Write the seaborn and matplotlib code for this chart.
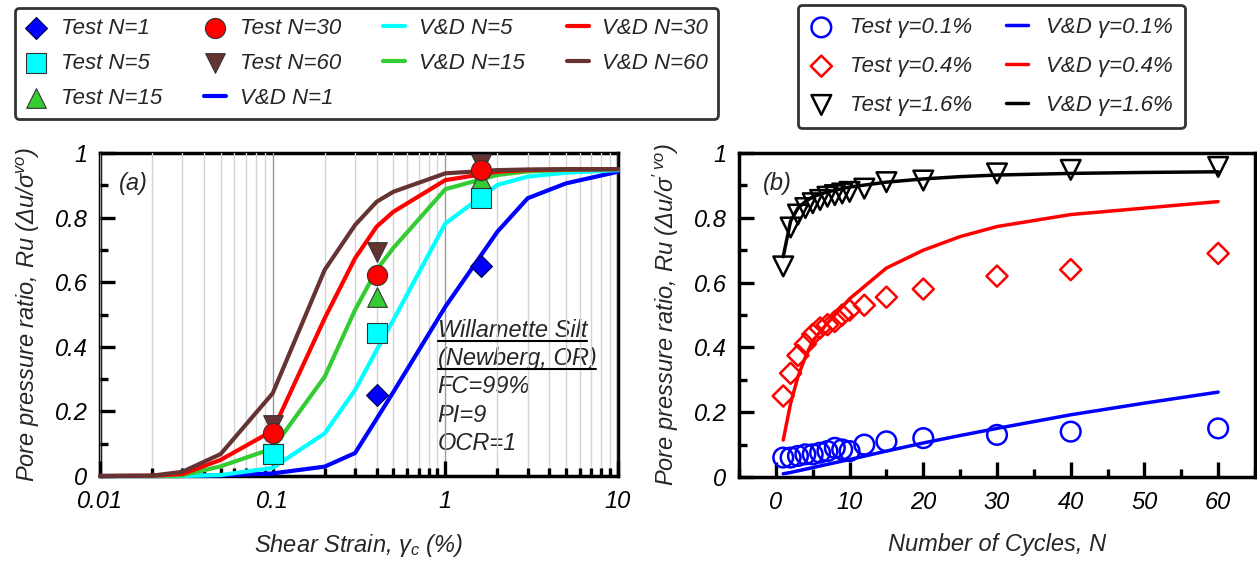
import numpy as np
import matplotlib
matplotlib.use("Agg")
import matplotlib.pyplot as plt
import seaborn as sns
from matplotlib.ticker import FixedLocator, MultipleLocator, LogLocator, NullFormatter
from matplotlib.lines import Line2D
from matplotlib.patches import Rectangle

# ---------------- Panel (a) data ----------------
strain_vd = [0.01, 0.02, 0.03, 0.05, 0.1, 0.2, 0.3, 0.4, 0.5, 1, 2, 3, 5, 10]
vd_n1 = [0, 0, 0, 0.002, 0.008, 0.029, 0.071, 0.177, 0.26, 0.524, 0.756, 0.86, 0.906, 0.942]
vd_n5 = [0, 0, 0, 0.003, 0.025, 0.132, 0.266, 0.39, 0.483, 0.782, 0.901, 0.927, 0.939, 0.947]
vd_n15 = [0, 0, 0.002, 0.03, 0.085, 0.307, 0.514, 0.638, 0.706, 0.888, 0.932, 0.943, 0.948, 0.95]
vd_n30 = [0, 0.001, 0.006, 0.05, 0.14, 0.488, 0.674, 0.772, 0.818, 0.916, 0.942, 0.947, 0.949, 0.95]
vd_n60 = [0, 0.001, 0.013, 0.068, 0.256, 0.638, 0.777, 0.849, 0.88, 0.937, 0.947, 0.949, 0.95, 0.95]

strain_test_n1 = [0.4, 1.6]
test_n1 = [0.25, 0.65]
strain_test = [0.1, 0.4, 1.6]
test_n5 = [0.068, 0.442, 0.86]
test_n15 = [0.085, 0.555, 0.92]
test_n30 = [0.132, 0.622, 0.947]
test_n60 = [0.158, 0.694, 0.966]

# ---------------- Panel (b) data ----------------
cycles_test = [1, 2, 3, 4, 5, 6, 7, 8, 9, 10, 12, 15, 20, 30, 40, 60]
test_g01 = [0.06, 0.06, 0.065, 0.07, 0.07, 0.075, 0.08, 0.09, 0.085, 0.08, 0.10, 0.11, 0.12, 0.13, 0.14, 0.15]
test_g04 = [0.25, 0.32, 0.375, 0.41, 0.44, 0.46, 0.47, 0.48, 0.50, 0.515, 0.53, 0.555, 0.58, 0.62, 0.64, 0.69]
test_g16 = [0.65, 0.77, 0.81, 0.83, 0.845, 0.855, 0.865, 0.87, 0.875, 0.88, 0.89, 0.91, 0.915, 0.937, 0.948, 0.957]

cycles_vd = [1, 2, 3, 4, 5, 7, 10, 15, 20, 25, 30, 40, 50, 60]
vd_g01 = [0.01, 0.014, 0.019, 0.024, 0.029, 0.039, 0.054, 0.08, 0.105, 0.128, 0.15, 0.192, 0.228, 0.262]
vd_g04 = [0.114, 0.227, 0.31, 0.37, 0.42, 0.475, 0.55, 0.645, 0.70, 0.742, 0.773, 0.81, 0.83, 0.85]
vd_g16 = [0.68, 0.79, 0.83, 0.85, 0.865, 0.88, 0.895, 0.91, 0.92, 0.927, 0.932, 0.937, 0.94, 0.942]

y_ticks = [0, 0.2, 0.4, 0.6, 0.8, 1.0]
y_tick_labels = ["0", "0.2", "0.4", "0.6", "0.8", "1"]
xa_ticks = [0.01, 0.1, 1, 10]
xa_tick_labels = ["0.01", "0.1", "1", "10"]
xb_ticks = [0, 10, 20, 30, 40, 50, 60]
xb_tick_labels = ["0", "10", "20", "30", "40", "50", "60"]

# ---------------- style ----------------
sns.set_style("ticks")
plt.rcParams.update({
    "font.family": ["Liberation Sans", "DejaVu Sans"],
    "font.style": "italic",
    "mathtext.fontset": "custom",
    "mathtext.rm": "Liberation Sans:italic",
    "mathtext.it": "Liberation Sans:italic",
    "mathtext.bf": "Liberation Sans:italic:bold",
    "axes.edgecolor": "black",
    "axes.linewidth": 2.5,
    "axes.axisbelow": False,
    "xtick.direction": "in",
    "ytick.direction": "in",
    "xtick.major.size": 10,
    "ytick.major.size": 10,
    "xtick.minor.size": 5,
    "ytick.minor.size": 5,
    "xtick.major.width": 2.2,
    "ytick.major.width": 2.2,
    "xtick.minor.width": 2.2,
    "ytick.minor.width": 2.2,
    "xtick.color": "black",
    "ytick.color": "black",
})

C_BLUE = "#0000ff"
C_CYAN = "#00ffff"
C_GREEN = "#33cc33"
C_RED = "#ff0000"
C_BROWN = "#663333"

W, H = 1257, 563
fig = plt.figure(figsize=(W / 100, H / 100), dpi=100)
ax_a = fig.add_axes([100 / W, 1 - 476 / H, 518 / W, 323 / H])
ax_b = fig.add_axes([739 / W, 1 - 477 / H, 516 / W, 324 / H])

# ---------------- Panel (a) ----------------
ax_a.set_xscale("log")
lw_a = 3.0
for yv, col, lab in [(vd_n1, C_BLUE, "V&D N=1"), (vd_n5, C_CYAN, "V&D N=5"),
                     (vd_n15, C_GREEN, "V&D N=15"), (vd_n30, C_RED, "V&D N=30"),
                     (vd_n60, C_BROWN, "V&D N=60")]:
    sns.lineplot(x=strain_vd, y=yv, color=col, lw=lw_a, ax=ax_a, label=lab,
                 legend=False, zorder=3, clip_on=False)

sns.scatterplot(x=strain_test_n1, y=test_n1, marker="D", s=125, color=C_BLUE,
                edgecolor="#000040", linewidth=0.8, ax=ax_a, label="Test N=1",
                legend=False, zorder=5, clip_on=False)
sns.scatterplot(x=strain_test, y=test_n15, marker="^", s=200, color=C_GREEN,
                edgecolor="#333333", linewidth=0.8, ax=ax_a, label="Test N=15",
                legend=False, zorder=5, clip_on=False)
sns.scatterplot(x=strain_test, y=test_n5, marker="s", s=200, color=C_CYAN,
                edgecolor="#333333", linewidth=0.8, ax=ax_a, label="Test N=5",
                legend=False, zorder=5, clip_on=False)
sns.scatterplot(x=strain_test, y=test_n60, marker="v", s=200, color=C_BROWN,
                edgecolor="#333333", linewidth=0.8, ax=ax_a, label="Test N=60",
                legend=False, zorder=5, clip_on=False)
sns.scatterplot(x=strain_test, y=test_n30, marker="o", s=210, color=C_RED,
                edgecolor="#333333", linewidth=0.8, ax=ax_a, label="Test N=30",
                legend=False, zorder=5, clip_on=False)

ax_a.set_xlim(0.01, 10)
ax_a.set_ylim(0, 1)
ax_a.xaxis.set_major_locator(FixedLocator(xa_ticks))
ax_a.set_xticklabels(xa_tick_labels)
ax_a.xaxis.set_minor_locator(LogLocator(base=10, subs=np.arange(2, 10)))
ax_a.xaxis.set_minor_formatter(NullFormatter())
ax_a.grid(True, which="minor", axis="x", color="#d4d4d4", lw=1)
ax_a.grid(True, which="major", axis="x", color="#9a9a9a", lw=1)
ax_a.grid(False, axis="y")

# white box behind the site description
ax_a.add_patch(Rectangle((0.649, 0.05), 0.34, 0.446, transform=ax_a.transAxes,
                         facecolor="white", edgecolor="none", zorder=1))
fs = 17
note_lines = [("Willamette Silt", 0.431), ("(Newberg, OR)", 0.344), ("FC=99%", 0.256),
              ("PI=9", 0.168), ("OCR=1", 0.08)]
note_texts = []
for s_, yy in note_lines:
    t = ax_a.text(0.652, yy, s_, transform=ax_a.transAxes, fontsize=fs,
                  ha="left", va="baseline", zorder=2)
    note_texts.append(t)

ax_a.text(0.064, 0.907, "(a)", transform=ax_a.transAxes, fontsize=fs,
          ha="center", va="center")

# ---------------- Panel (b) ----------------
lw_b = 2.5
sns.lineplot(x=cycles_vd, y=vd_g01, color=C_BLUE, lw=lw_b, ax=ax_b,
             label="V&D \u03b3=0.1%", legend=False, zorder=3)
sns.lineplot(x=cycles_vd, y=vd_g04, color=C_RED, lw=lw_b, ax=ax_b,
             label="V&D \u03b3=0.4%", legend=False, zorder=3)
sns.lineplot(x=cycles_vd, y=vd_g16, color="black", lw=lw_b, ax=ax_b,
             label="V&D \u03b3=1.6%", legend=False, zorder=3)

sns.scatterplot(x=cycles_test, y=test_g01, marker="o", s=200, facecolor="none",
                edgecolor=C_BLUE, linewidth=1.8, ax=ax_b, label="Test \u03b3=0.1%",
                legend=False, zorder=4)
sns.scatterplot(x=cycles_test, y=test_g04, marker="D", s=115, facecolor="none",
                edgecolor=C_RED, linewidth=1.8, ax=ax_b, label="Test \u03b3=0.4%",
                legend=False, zorder=4)
sns.scatterplot(x=cycles_test, y=test_g16, marker="v", s=200, facecolor="none",
                edgecolor="black", linewidth=1.8, ax=ax_b, label="Test \u03b3=1.6%",
                legend=False, zorder=4)

ax_b.set_xlim(-5, 65)
ax_b.set_ylim(0, 1)
ax_b.set_xticks(xb_ticks)
ax_b.set_xticklabels(xb_tick_labels)
ax_b.xaxis.set_minor_locator(MultipleLocator(5))
ax_b.text(0.074, 0.907, "(b)", transform=ax_b.transAxes, fontsize=fs,
          ha="center", va="center")

# ---------------- common axis styling ----------------
for ax in (ax_a, ax_b):
    ax.set_yticks(y_ticks)
    ax.set_yticklabels(y_tick_labels)
    ax.yaxis.set_minor_locator(MultipleLocator(0.1))
    ax.tick_params(which="major", direction="in", length=10.5, width=2.4,
                   labelsize=fs, bottom=True, left=True, top=False, right=False,
                   color="black")
    ax.tick_params(which="minor", direction="in", length=5.5, width=2.4,
                   bottom=True, left=True, top=False, right=False, color="black")
    ax.tick_params(axis="x", which="major", pad=10)
    ax.tick_params(axis="y", which="major", pad=9)
    for sp in ax.spines.values():
        sp.set_visible(True)
        sp.set_linewidth(2.5)
        sp.set_color("black")

ax_a.set_xlabel(r"Shear Strain, $\gamma_c$ (%)", fontsize=fs, labelpad=14)
ax_b.set_xlabel("Number of Cycles, N", fontsize=fs, labelpad=14)
ax_a.set_ylabel(r"Pore pressure ratio, Ru (Δu/σ$^{vo}$)", fontsize=fs, labelpad=9)
ax_b.set_ylabel(r"Pore pressure ratio, Ru (Δu/σ$^{\prime\ vo}$)", fontsize=fs, labelpad=9)

# ---------------- legends ----------------
ha, la = ax_a.get_legend_handles_labels()
hmap = dict(zip(la, ha))
order_a = ["Test N=1", "Test N=5", "Test N=15", "Test N=30", "Test N=60",
           "V&D N=1", "V&D N=5", "V&D N=15", "V&D N=30", "V&D N=60"]
leg_a = fig.legend([hmap[k] for k in order_a], order_a, ncol=4, loc="upper left",
                   bbox_to_anchor=(15 / W, 1 - 8 / H), frameon=True, fancybox=True,
                   fontsize=16, handlelength=1.0, handletextpad=0.6,
                   columnspacing=1.9, labelspacing=0.62, borderpad=0.45,
                   scatterpoints=1, borderaxespad=0)
leg_a.get_frame().set_edgecolor("black")
leg_a.get_frame().set_linewidth(2)

hb, lb = ax_b.get_legend_handles_labels()
hmapb = dict(zip(lb, hb))
order_b = ["Test \u03b3=0.1%", "Test \u03b3=0.4%", "Test \u03b3=1.6%",
           "V&D \u03b3=0.1%", "V&D \u03b3=0.4%", "V&D \u03b3=1.6%"]
leg_b = fig.legend([hmapb[k] for k in order_b], order_b, ncol=2, loc="upper left",
                   bbox_to_anchor=(798 / W, 1 - 5 / H), frameon=True, fancybox=True,
                   fontsize=16, handlelength=1.0, handletextpad=0.8,
                   columnspacing=1.5, labelspacing=0.8, borderpad=0.55,
                   scatterpoints=1, borderaxespad=0)
leg_b.get_frame().set_edgecolor("black")
leg_b.get_frame().set_linewidth(2)

# underline the site name lines
fig.canvas.draw()
renderer = fig.canvas.get_renderer()
for t in note_texts[:2]:
    bb = t.get_window_extent(renderer)
    yline = (bb.y0 + 1) / H
    fig.add_artist(Line2D([bb.x0 / W, bb.x1 / W], [yline, yline], color="black",
                          lw=1.5, transform=fig.transFigure))

fig.savefig("out.png", dpi=100)
